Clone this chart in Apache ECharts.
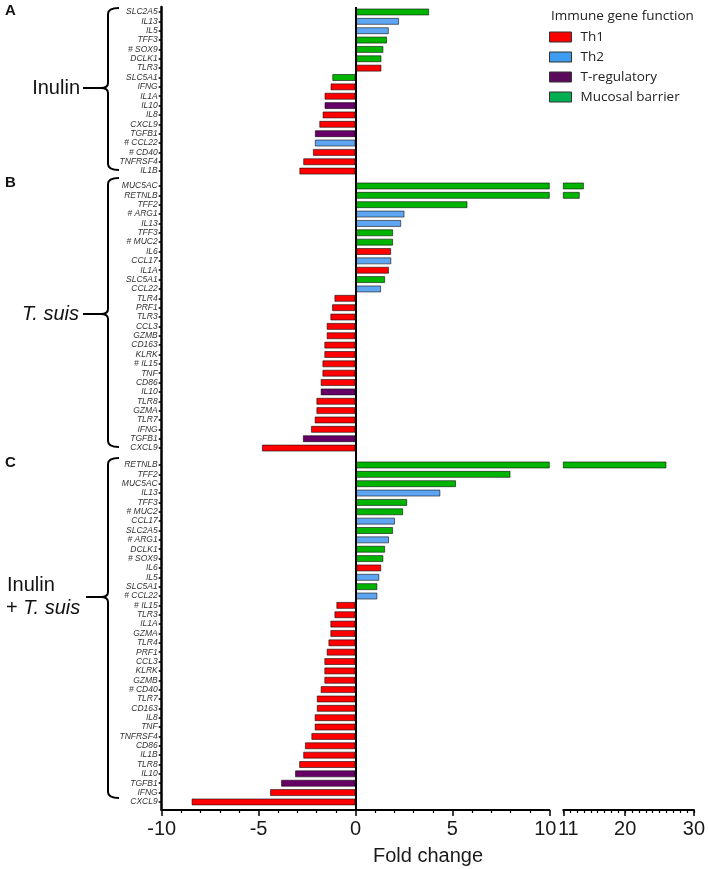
<!DOCTYPE html>
<html>
<head>
<meta charset="utf-8">
<script src="https://cdn.jsdelivr.net/npm/echarts@6/dist/echarts.min.js"></script>
<style>html,body{margin:0;padding:0;background:#fff;}#c{width:708px;height:869px;}</style>
</head>
<body>
<div id="c"></div>
<script>
// ---------- data ----------
const functions = ['Th1', 'Th2', 'T-regulatory', 'Mucosal barrier'];
const th1Genes = ['TLR3','IFNG','IL1A','IL8','CXCL9','CD40','TNFRSF4','IL1B','IL6','TLR4','PRF1','CCL3','GZMB','CD163','KLRK','IL15','TNF','CD86','TLR8','GZMA','TLR7'];
const th2Genes = ['IL13','IL5','CCL22','ARG1','CCL17'];
const tregGenes = ['IL10','TGFB1'];
const mucosalGenes = ['SLC2A5','TFF3','SOX9','DCLK1','SLC5A1','MUC5AC','RETNLB','TFF2','MUC2'];

const catA = ['SLC2A5','IL13','IL5','TFF3','# SOX9','DCLK1','TLR3','SLC5A1','IFNG','IL1A','IL10','IL8','CXCL9','TGFB1','# CCL22','# CD40','TNFRSF4','IL1B'];
const valA = [3.8,2.25,1.72,1.63,1.44,1.34,1.34,-1.2,-1.29,-1.6,-1.6,-1.7,-1.87,-2.1,-2.1,-2.2,-2.7,-2.9];

const catB = ['MUC5AC','RETNLB','TFF2','# ARG1','IL13','TFF3','# MUC2','IL6','CCL17','IL1A','SLC5A1','CCL22','TLR4','PRF1','TLR3','CCL3','GZMB','CD163','KLRK','# IL15','TNF','CD86','IL10','TLR8','GZMA','TLR7','IFNG','TGFB1','CXCL9'];
const valB = [14.0,13.4,5.78,2.53,2.36,1.94,1.94,1.84,1.85,1.73,1.53,1.32,-1.09,-1.21,-1.3,-1.49,-1.49,-1.61,-1.61,-1.71,-1.71,-1.8,-1.8,-2.02,-2.02,-2.11,-2.3,-2.72,-4.83];

const catC = ['RETNLB','TFF2','MUC5AC','IL13','TFF3','# MUC2','CCL17','SLC2A5','# ARG1','DCLK1','# SOX9','IL6','IL5','SLC5A1','# CCL22','# IL15','TLR3','IL1A','GZMA','TLR4','PRF1','CCL3','KLRK','GZMB','# CD40','TLR7','CD163','IL8','TNF','TNFRSF4','CD86','IL1B','TLR8','IL10','TGFB1','IFNG','CXCL9'];
const valC = [26.0,8.0,5.19,4.38,2.67,2.46,2.04,1.94,1.73,1.53,1.44,1.33,1.23,1.13,1.13,-0.99,-1.09,-1.3,-1.3,-1.4,-1.49,-1.61,-1.61,-1.61,-1.8,-2.0,-2.0,-2.11,-2.11,-2.28,-2.61,-2.7,-2.91,-3.12,-3.84,-4.41,-8.46];

const mainTicks = [-10, -5, 0, 5, 10];
const breakTicks = [11, 20, 30];
const panelLetters = ['A', 'B', 'C'];

// ---------- styles ----------
const barColors = {'Th1':'#ff0000','Th2':'#5ea6f2','T-regulatory':'#660066','Mucosal barrier':'#00b400'};
const legendColors = {'Th1':'#ff0000','Th2':'#3d9bf0','T-regulatory':'#5c0a5c','Mucosal barrier':'#00b050'};
const SANS = '"Liberation Sans", Arial, sans-serif';
const LEG = '"Open Sans", "Noto Sans", sans-serif';

function funcOf(label) {
  const g = label.replace('# ', '');
  if (th1Genes.includes(g)) return 'Th1';
  if (th2Genes.includes(g)) return 'Th2';
  if (tregGenes.includes(g)) return 'T-regulatory';
  return 'Mucosal barrier';
}

// layout
const MAIN_L = 161.7, MAIN_W = 387.6, BRK_L = 563.3, BRK_W = 130.7;
const ROW = 9.36;
const panels = [
  {cats: catA, vals: valA, top: 7.3},
  {cats: catB, vals: valB, top: 181.3},
  {cats: catC, vals: valC, top: 460.3}
];
const BG_TOP = 7, BG_BOTTOM = 810;

const grid = [], xAxis = [], yAxis = [], series = [];

// background main grid (left axis line, bottom axis, zero line)
grid.push({left: MAIN_L, top: BG_TOP, width: MAIN_W, height: BG_BOTTOM - BG_TOP});
xAxis.push({
  gridIndex: 0, type: 'value', min: -10, max: 10, interval: 5,
  axisLine: {show: true, onZero: false, lineStyle: {color: '#000', width: 2}},
  axisTick: {show: true, length: 6, lineStyle: {color: '#000', width: 1.5}},
  minorTick: {show: true, splitNumber: 5, length: 3, lineStyle: {color: '#000', width: 1.2}},
  splitLine: {show: false},
  axisLabel: {
    margin: 9, color: '#1a1a1a', fontSize: 20, fontFamily: SANS,
    formatter: v => v === 10 ? '{r|10}' : '{n|' + v + '}',
    rich: {
      n: {fontSize: 20, fontFamily: SANS, color: '#1a1a1a'},
      r: {fontSize: 20, fontFamily: SANS, color: '#1a1a1a', padding: [0, 8, 0, 0]}
    }
  }
});
yAxis.push({
  gridIndex: 0, type: 'value', min: 0, max: 1,
  axisLine: {show: true, onZero: false, lineStyle: {color: '#000', width: 2.5}},
  axisTick: {show: false}, axisLabel: {show: false}, splitLine: {show: false}
});
series.push({
  type: 'line', xAxisIndex: 0, yAxisIndex: 0, data: [], silent: true,
  markLine: {
    silent: true, symbol: ['none', 'none'], label: {show: false},
    lineStyle: {color: '#000', width: 2, type: 'solid'},
    data: [{xAxis: 0}]
  }
});

// background break grid (axis line with labels 11, 20, 30)
grid.push({left: BRK_L, top: BG_TOP, width: BRK_W, height: BG_BOTTOM - BG_TOP});
xAxis.push({
  gridIndex: 1, type: 'value', min: 11, max: 30,
  axisLine: {show: true, onZero: false, lineStyle: {color: '#000', width: 2}},
  axisTick: {show: true, customValues: breakTicks, length: 6, lineStyle: {color: '#000', width: 1.5}},
  splitLine: {show: false},
  axisLabel: {
    customValues: breakTicks, margin: 9, color: '#1a1a1a', fontSize: 20, fontFamily: SANS,
    formatter: v => v === 11 ? '{l|11}' : '{n|' + v + '}',
    rich: {
      n: {fontSize: 20, fontFamily: SANS, color: '#1a1a1a'},
      l: {fontSize: 20, fontFamily: SANS, color: '#1a1a1a', padding: [0, 0, 0, 10]}
    }
  }
});
yAxis.push({gridIndex: 1, type: 'value', min: 0, max: 1, show: false});

// break grid minor ticks (every unit)
grid.push({left: BRK_L, top: BG_TOP, width: BRK_W, height: BG_BOTTOM - BG_TOP});
xAxis.push({
  gridIndex: 2, type: 'value', min: 11, max: 30, interval: 1,
  axisLine: {show: false, onZero: false},
  axisTick: {show: true, length: 3, lineStyle: {color: '#000', width: 1.2}},
  axisLabel: {show: false}, splitLine: {show: false}
});
yAxis.push({gridIndex: 2, type: 'value', min: 0, max: 1, show: false});

// panel grids
panels.forEach((p, i) => {
  const h = p.cats.length * ROW;
  const gi = grid.length;
  grid.push({left: MAIN_L, top: p.top, width: MAIN_W, height: h});
  xAxis.push({gridIndex: gi, type: 'value', min: -10, max: 10, show: false});
  yAxis.push({
    gridIndex: gi, type: 'category', inverse: true, data: p.cats,
    axisLine: {show: false, onZero: false},
    axisTick: {show: true, alignWithLabel: true, length: 3, lineStyle: {color: '#000', width: 1.5}},
    axisLabel: {
      interval: 0, margin: 4, fontSize: 8.5, fontStyle: 'italic', color: '#333', fontFamily: SANS
    },
    splitLine: {show: false}
  });
  const xi = xAxis.length - 1, yi = yAxis.length - 1;
  functions.forEach(f => {
    series.push({
      type: 'bar', name: f, xAxisIndex: xi, yAxisIndex: yi,
      barWidth: 7, barGap: '-100%', clip: true,
      itemStyle: {color: barColors[f], borderColor: 'rgba(0,0,0,0.55)', borderWidth: 1},
      data: p.vals.map((v, j) => funcOf(p.cats[j]) === f ? v : null)
    });
  });
  // broken-axis part for values beyond 10
  if (p.vals.some(v => v > 10)) {
    const bgi = grid.length;
    grid.push({left: BRK_L, top: p.top, width: BRK_W, height: h});
    xAxis.push({gridIndex: bgi, type: 'value', min: 11, max: 30, show: false});
    yAxis.push({gridIndex: bgi, type: 'category', inverse: true, data: p.cats, show: false});
    const bxi = xAxis.length - 1, byi = yAxis.length - 1;
    functions.forEach(f => {
      series.push({
        type: 'bar', name: f, xAxisIndex: bxi, yAxisIndex: byi,
        barWidth: 7, barGap: '-100%', clip: true,
        itemStyle: {color: barColors[f], borderColor: 'rgba(0,0,0,0.55)', borderWidth: 1},
        data: p.vals.map((v, j) => (funcOf(p.cats[j]) === f && v > 10) ? v : null)
      });
    });
  }
});

// ---------- annotations (brackets, group names, panel letters) ----------
const LS = {stroke: '#000', lineWidth: 2, fill: null};
function bez(x1, y1, cx, cy, x2, y2) {
  return {type: 'bezierCurve', silent: true, shape: {x1: x1, y1: y1, cpx1: cx, cpy1: cy, x2: x2, y2: y2}, style: LS};
}
function seg(x1, y1, x2, y2) {
  return {type: 'line', silent: true, shape: {x1: x1, y1: y1, x2: x2, y2: y2}, style: LS};
}
function bracket(y1, y2, pm, xs, xh, xp, xl) {
  return [
    bez(xh, y1, xs, y1, xs, y1 + 6),
    seg(xs, y1 + 6, xs, pm - 5),
    bez(xs, pm - 5, xs, pm, xp, pm),
    bez(xp, pm, xs, pm, xs, pm + 5),
    seg(xs, pm + 5, xs, y2 - 6),
    bez(xs, y2 - 6, xs, y2, xh, y2),
    seg(xp, pm, xl, pm)
  ];
}
function txt(x, y, text, size, opts) {
  return {
    type: 'text', x: x, y: y, silent: true,
    style: Object.assign({
      text: text, fontSize: size, fontFamily: SANS, fill: '#111',
      align: 'left', verticalAlign: 'middle', textAlign: 'left', textVerticalAlign: 'middle'
    }, opts || {})
  };
}

const graphic = [].concat(
  bracket(8, 170, 88, 108, 119, 101, 83),
  bracket(178, 447, 314, 108, 119, 101, 83),
  bracket(458, 798, 597, 108, 119, 101, 86),
  [
    txt(5, 11, panelLetters[0], 15, {fontWeight: 'bold'}),
    txt(5, 183, panelLetters[1], 15, {fontWeight: 'bold'}),
    txt(5, 463, panelLetters[2], 15, {fontWeight: 'bold'}),
    txt(80, 88, 'Inulin', 20, {align: 'right', textAlign: 'right'}),
    txt(79, 314, 'T. suis', 20, {align: 'right', textAlign: 'right', fontStyle: 'italic'}),
    txt(7, 585, 'Inulin', 20),
    txt(6, 608, '+ {i|T. suis}', 20, {rich: {i: {fontStyle: 'italic', fontSize: 20, fontFamily: SANS, fill: '#111'}}}),
    txt(428, 856, 'Fold change', 20, {align: 'center', textAlign: 'center', fill: '#1a1a1a'})
  ]
);

const chart = echarts.init(document.getElementById('c'), null, {renderer: 'canvas'});
chart.setOption({
  animation: false,
  backgroundColor: '#fff',
  title: {
    text: 'Immune gene function', left: 546, top: 4,
    textStyle: {fontSize: 13.5, fontWeight: 'normal', color: '#222', fontFamily: LEG}
  },
  legend: {
    orient: 'vertical', left: 549, top: 29, itemWidth: 22, itemHeight: 10, itemGap: 4,
    icon: 'rect', selectedMode: false, padding: 0,
    textStyle: {fontSize: 13.5, lineHeight: 16, color: '#222', fontFamily: LEG, padding: [0, 0, 0, 4]},
    data: functions.map(f => ({name: f, itemStyle: {color: legendColors[f], borderColor: '#333', borderWidth: 1}}))
  },
  grid: grid, xAxis: xAxis, yAxis: yAxis, series: series, graphic: graphic
});
</script>
</body>
</html>
